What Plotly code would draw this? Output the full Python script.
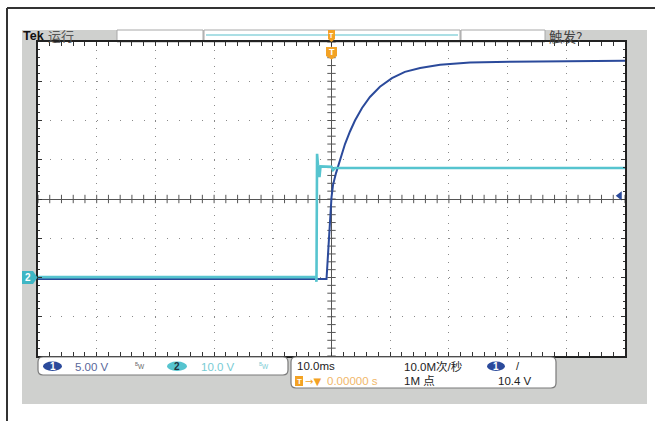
import plotly.graph_objects as go

W, H = 655, 421

# ---- scope settings ----
time_per_div_ms = 10.0
ch1_volts_per_div = 5.0
ch2_volts_per_div = 10.0
ground_div = -2.0          # both channel ground markers sit 2 divisions below centre
trigger_level_v = 10.4

# ---- CH1 (dark blue) samples ----
ch1_t_ms = [-50.0, -0.85, 0.0, 0.26, 0.77, 1.45, 2.3, 3.15, 4.0, 5.2, 6.55, 8.25,
            10.3, 12.5, 15.1, 18.5, 23.6, 30.4, 50.0]
ch1_v = [-0.2, -0.2, 10.2, 11.8, 13.3, 15.1, 17.0, 18.6, 20.0, 21.6, 23.0, 24.3,
         25.4, 26.2, 26.7, 27.1, 27.4, 27.5, 27.6]

# ---- CH2 (cyan) samples ----
ch2_t_ms = [-50.0, -2.62, -2.56, -2.46, -2.30, -2.05, -1.87, 0.0, 0.26, 0.6, 50.0]
ch2_v = [0.1, 0.1, -1.1, 31.5, 28.5, 25.6, 28.3, 28.2, 27.4, 27.9, 27.9]

# ---- readout texts ----
ch1_scale_label = "5.00 V"
ch2_scale_label = "10.0 V"
timebase_label = "10.0ms"
sample_rate_label = "10.0M次/秒"
record_label = "1M 点"
trig_pos_label = "0.00000 s"
trig_level_label = "10.4 V"

C1 = "#2b4a9b"
C2 = "#56c4cf"
GREY = "#cfd0ce"
ORANGE = "#f3a224"
FONT = "Liberation Sans, Noto Sans CJK SC"
CJK = "Noto Sans CJK SC"


def px(x):
    return x / W


def py(y):
    return 1 - y / H


n_hdiv, n_vdiv = 10, 8
x_half = n_hdiv / 2 * time_per_div_ms
y_half = n_vdiv / 2

fig = go.Figure()

# centre crosshair ticks
minor_t = [i * time_per_div_ms / 5 - x_half for i in range(n_hdiv * 5 + 1)]
minor_d = [i / 5 - y_half for i in range(n_vdiv * 5 + 1)]
fig.add_trace(go.Scatter(x=minor_t, y=[0] * len(minor_t), mode="markers",
                         marker=dict(symbol="line-ns-open", size=6, color="#555",
                                     line=dict(color="#555", width=1)),
                         hoverinfo="skip"))
fig.add_trace(go.Scatter(x=[0] * len(minor_d), y=minor_d, mode="markers",
                         marker=dict(symbol="line-ew-open", size=6, color="#555",
                                     line=dict(color="#555", width=1)),
                         hoverinfo="skip"))

# traces
fig.add_trace(go.Scatter(x=ch1_t_ms, y=ch1_v, yaxis="y2", mode="lines",
                         line=dict(color=C1, width=2), hoverinfo="skip"))
fig.add_trace(go.Scatter(x=ch2_t_ms, y=ch2_v, yaxis="y3", mode="lines",
                         line=dict(color=C2, width=2.6), hoverinfo="skip"))

# trigger level arrow at right edge
fig.add_trace(go.Scatter(x=[x_half - 0.9], y=[trigger_level_v], yaxis="y2", mode="markers",
                         marker=dict(symbol="triangle-left", size=8, color=C1),
                         hoverinfo="skip", cliponaxis=False))

shapes = []
# outer frame
shapes.append(dict(type="line", xref="paper", yref="paper", x0=px(7), x1=px(655),
                   y0=py(8), y1=py(8), line=dict(color="#333", width=2)))
shapes.append(dict(type="line", xref="paper", yref="paper", x0=px(7), x1=px(7),
                   y0=py(8), y1=py(421), line=dict(color="#333", width=2)))
# grey panel and white screen
shapes.append(dict(type="rect", xref="paper", yref="paper", x0=px(22), x1=px(647),
                   y0=py(404), y1=py(30), fillcolor=GREY, line=dict(width=0), layer="below"))
shapes.append(dict(type="rect", xref="paper", yref="paper", x0=px(38), x1=px(625),
                   y0=py(356), y1=py(42), fillcolor="white", line=dict(width=0), layer="below"))
# top bar boxes
for x0, x1 in [(117, 203), (204, 460), (461, 545)]:
    shapes.append(dict(type="rect", xref="paper", yref="paper", x0=px(x0), x1=px(x1),
                       y0=py(42), y1=py(30), fillcolor="white",
                       line=dict(color="#a8a8a8", width=1), layer="below"))
shapes.append(dict(type="line", xref="paper", yref="paper", x0=px(206), x1=px(458),
                   y0=py(35), y1=py(35), line=dict(color="#8fd4dc", width=1.5)))


def rrect(x0, y0, x1, y1, r):
    X0, X1 = px(x0), px(x1)
    Y0, Y1 = py(y0), py(y1)
    rx, ry = r / W, r / H
    return (f"M {X0+rx},{Y0} L {X1-rx},{Y0} Q {X1},{Y0} {X1},{Y0-ry} "
            f"L {X1},{Y1+ry} Q {X1},{Y1} {X1-rx},{Y1} L {X0+rx},{Y1} "
            f"Q {X0},{Y1} {X0},{Y1+ry} L {X0},{Y0-ry} Q {X0},{Y0} {X0+rx},{Y0} Z")


for box in [(38, 357, 288, 375), (291, 357, 556, 388)]:
    shapes.append(dict(type="path", xref="paper", yref="paper", path=rrect(*box, 5),
                       fillcolor="white", line=dict(color="#7a7a7a", width=1.2)))
# channel ellipses
for (x0, x1), col in [((43, 62), C1), ((167, 187), C2), ((487, 505), C1)]:
    shapes.append(dict(type="circle", xref="paper", yref="paper", x0=px(x0), x1=px(x1),
                       y0=py(371), y1=py(361.5), fillcolor=col, line=dict(width=0)))
# orange trigger-position icon in readout
shapes.append(dict(type="rect", xref="paper", yref="paper", x0=px(295), x1=px(303),
                   y0=py(386), y1=py(376), fillcolor=ORANGE, line=dict(width=0)))
# trigger position markers at t = 0
dx = 5.5 * (2 * x_half) / 587
shapes.append(dict(type="path", xref="x", yref="paper",
                   path=f"M {-dx},{py(47)} L {dx},{py(47)} L {dx},{py(56)} L 0,{py(59.5)} L {-dx},{py(56)} Z",
                   fillcolor=ORANGE, line=dict(width=0)))
dx2 = 3.5 * (2 * x_half) / 587
shapes.append(dict(type="path", xref="x", yref="paper",
                   path=f"M {-dx2},{py(30)} L {dx2},{py(30)} L {dx2},{py(39)} L 0,{py(42)} L {-dx2},{py(39)} Z",
                   fillcolor=ORANGE, line=dict(width=0)))
# CH2 ground marker body (left), about 13 px tall
hv = 6.5 / 39.25 * ch2_volts_per_div
shapes.append(dict(type="path", xref="paper", yref="y3",
                   path=f"M {px(22)},{-hv} L {px(33)},{-hv} L {px(37.5)},{0} L {px(33)},{hv} L {px(22)},{hv} Z",
                   fillcolor="#3fb6c4", line=dict(width=0)))

ann = []


def txt(x, y, s, size=11, color="#222", family=FONT, xanchor="left", **kw):
    ann.append(dict(x=px(x), y=py(y), xref="paper", yref="paper", text=s, showarrow=False,
                    xanchor=xanchor, yanchor="middle",
                    font=dict(size=size, color=color, family=family), **kw))


txt(21, 36, "<b>Tek</b>", size=12.5, color="#111", family="Liberation Sans")
txt(46, 36, "运行", size=13, color="#555", family=CJK)
txt(547, 36, "触发?", size=13.5, color="#444", family=CJK)

txt(52.5, 366.5, "<b>1</b>", size=10, color="white", xanchor="center")
txt(73, 366.5, ch1_scale_label, size=11.5, color="#58679a")
txt(133, 366, "<sup>B</sup>W", size=6.5, color="#666")
txt(177, 366.5, "<b>2</b>", size=10, color="#1f3340", xanchor="center")
txt(199, 366.5, ch2_scale_label, size=11.5, color="#78cbd4")
txt(257, 366, "<sup>B</sup>W", size=6.5, color="#78cbd4")

txt(295, 366, timebase_label, size=11.5, color="#222")
txt(402, 366, sample_rate_label, size=11.5, color="#222")
txt(496, 366.5, "<b>1</b>", size=10, color="white", xanchor="center")
txt(514, 366, "/", size=11, color="#222")
txt(299, 381, "<b>T</b>", size=8, color="white", xanchor="center")
txt(303, 381, "→▼", size=10, color=ORANGE, family="DejaVu Sans")
txt(325, 381, trig_pos_label, size=11.5, color="#f1b76a")
txt(402, 381, record_label, size=11.5, color="#222")
txt(496, 381, trig_level_label, size=11.5, color="#222")

# T labels on trigger markers
ann.append(dict(x=0, xref="x", y=py(52), yref="paper", text="<b>T</b>", showarrow=False,
                font=dict(size=9, color="white", family=FONT), xanchor="center", yanchor="middle"))
ann.append(dict(x=0, xref="x", y=py(35), yref="paper", text="<b>T</b>", showarrow=False,
                font=dict(size=7, color="white", family=FONT), xanchor="center", yanchor="middle"))
# CH2 ground label
ann.append(dict(x=px(28), xref="paper", y=0, yref="y3", text="<b>2</b>", showarrow=False,
                font=dict(size=10, color="white", family=FONT), xanchor="center", yanchor="middle"))

axis_common = dict(showticklabels=False, showline=True, mirror="allticks", linecolor="#222",
                   linewidth=1.5, ticks="inside", tickcolor="#333", ticklen=4,
                   zeroline=True, zerolinecolor="#555", zerolinewidth=1,
                   gridcolor="#8a8a8a", gridwidth=1.2, fixedrange=True)

fig.update_layout(
    width=W, height=H, margin=dict(l=0, r=0, t=0, b=0),
    paper_bgcolor="white", plot_bgcolor="white", showlegend=False,
    xaxis=dict(range=[-x_half, x_half], domain=[px(38), px(625)], dtick=time_per_div_ms,
               griddash="1px,6.85px",
               minor=dict(dtick=time_per_div_ms / 5, ticks="inside", ticklen=2.5,
                          tickcolor="#333", showgrid=False),
               **axis_common),
    yaxis=dict(range=[-y_half, y_half], domain=[py(356), py(42)], dtick=1,
               griddash="1px,10.74px",
               minor=dict(dtick=0.2, ticks="inside", ticklen=2.5, tickcolor="#333", showgrid=False),
               **axis_common),
    yaxis2=dict(range=[(-y_half - ground_div) * ch1_volts_per_div, (y_half - ground_div) * ch1_volts_per_div],
                overlaying="y", visible=False, fixedrange=True),
    yaxis3=dict(range=[(-y_half - ground_div) * ch2_volts_per_div, (y_half - ground_div) * ch2_volts_per_div],
                overlaying="y", visible=False, fixedrange=True),
    shapes=shapes, annotations=ann,
)

fig.write_html("out.html", config={"displayModeBar": False},
               post_script="document.body.style.margin='0';document.body.style.padding='0';")
